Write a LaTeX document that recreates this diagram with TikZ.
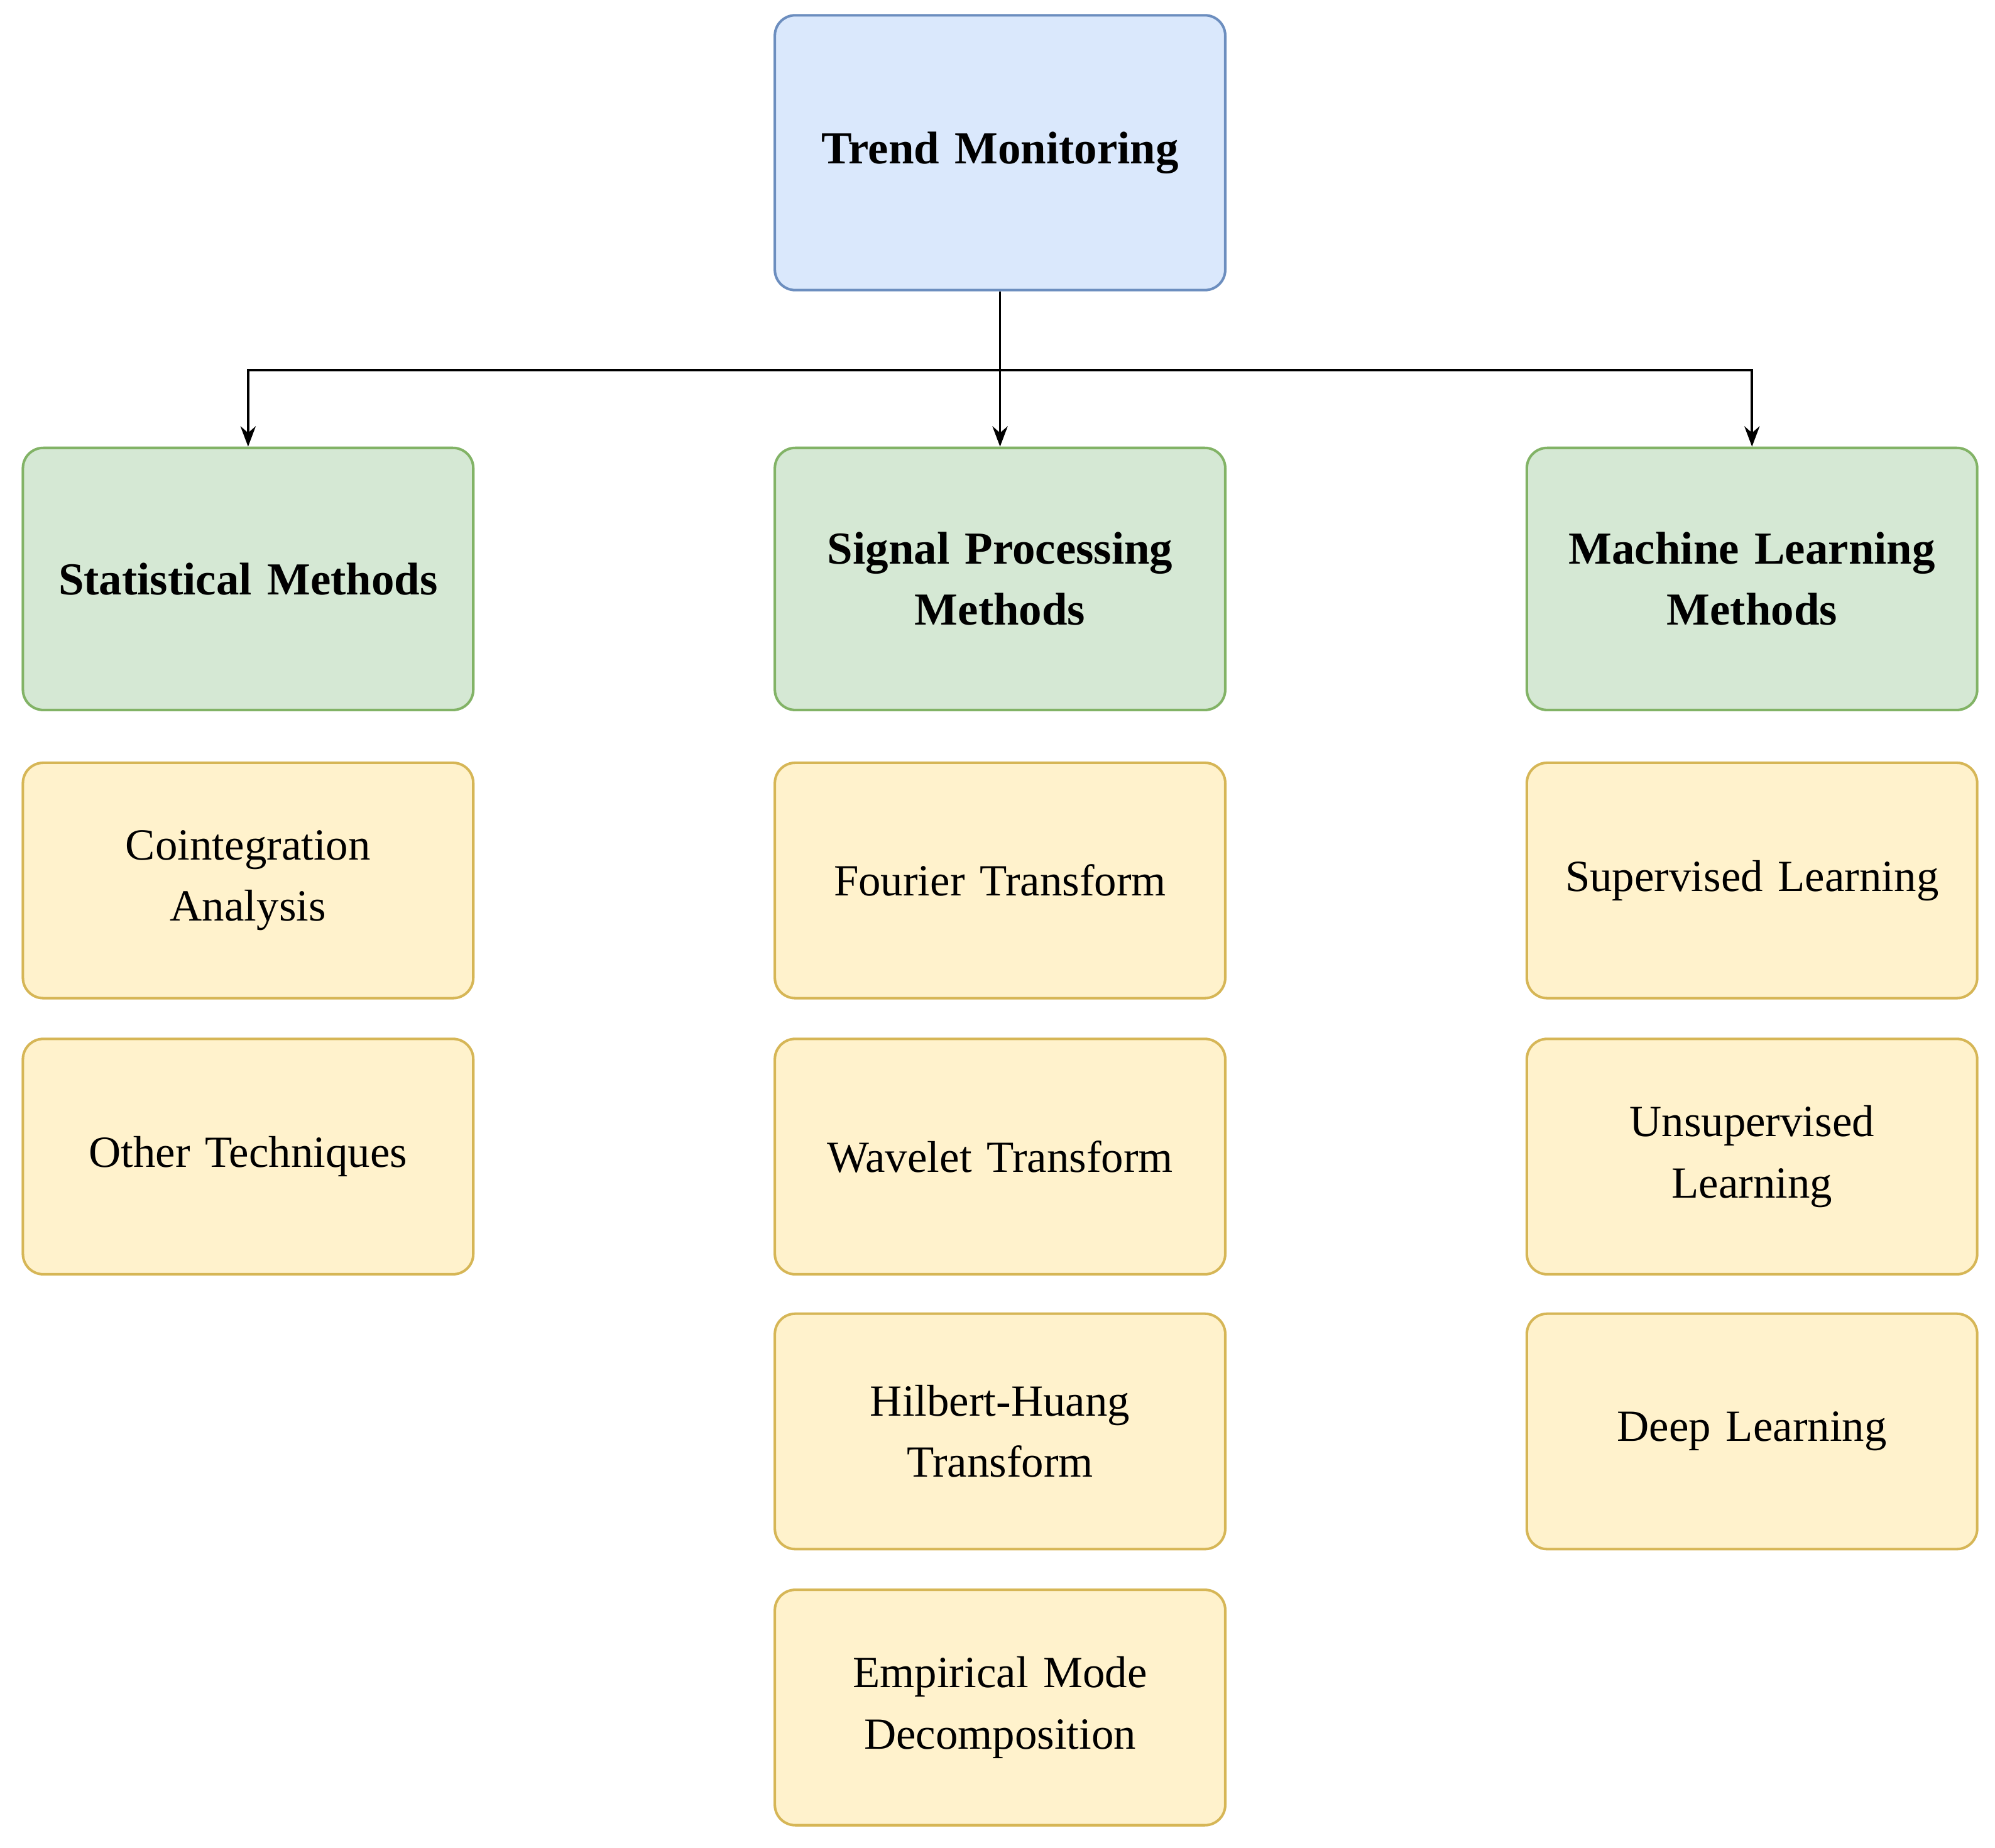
\documentclass[tikz,border=0pt]{standalone}
\usepackage{fontspec}
\setmainfont{Liberation Serif}
\usetikzlibrary{arrows.meta}
\definecolor{bfill}{HTML}{DAE8FC}\definecolor{bdraw}{HTML}{6C8EBF}
\definecolor{gfill}{HTML}{D5E8D4}\definecolor{gdraw}{HTML}{82B366}
\definecolor{yfill}{HTML}{FFF2CC}\definecolor{ydraw}{HTML}{D6B656}
\begin{document}
\begin{tikzpicture}[x=0.5pt,y=-0.5pt,
 box/.style={rounded corners=8pt,line width=1pt,minimum width=177pt,align=center,inner sep=2pt,text width=172pt},
 top/.style={box,fill=bfill,draw=bdraw,minimum height=108pt,font=\bfseries\fontsize{18}{24}\selectfont},
 cat/.style={box,fill=gfill,draw=gdraw,minimum height=103pt,font=\bfseries\fontsize{18}{24}\selectfont},
 item/.style={box,fill=yfill,draw=ydraw,minimum height=92.5pt,font=\fontsize{17.5}{24}\selectfont},
 arr/.style={-{Stealth[length=8pt,width=6pt]},line width=0.9pt}]
\useasboundingbox (0,0) rectangle (1568,1452);
\node[top] (tm) at (786,120) {Trend Monitoring};
\node[cat] (st) at (195,455) {Statistical Methods};
\node[cat] (sp) at (786,455) {Signal Processing\\Methods};
\node[cat] (ml) at (1377,455) {Machine Learning\\Methods};
\node[item] (s1) at (195,692) {Cointegration\\Analysis};
\node[item] (s2) at (195,909) {Other Techniques};
\node[item] (p1) at (786,692) {Fourier Transform};
\node[item] (p2) at (786,909) {Wavelet Transform};
\node[item] (p3) at (786,1125) {Hilbert-Huang\\Transform};
\node[item] (p4) at (786,1342) {Empirical Mode\\Decomposition};
\node[item] (m1) at (1377,692) {Supervised Learning};
\node[item] (m2) at (1377,909) {Unsupervised\\Learning};
\node[item] (m3) at (1377,1125) {Deep Learning};
\coordinate (j) at (786,291);
\draw[arr] (tm.south) -- (sp.north);
\draw[arr] (j) -| (st.north);
\draw[arr] (j) -| (ml.north);
\end{tikzpicture}
\end{document}
